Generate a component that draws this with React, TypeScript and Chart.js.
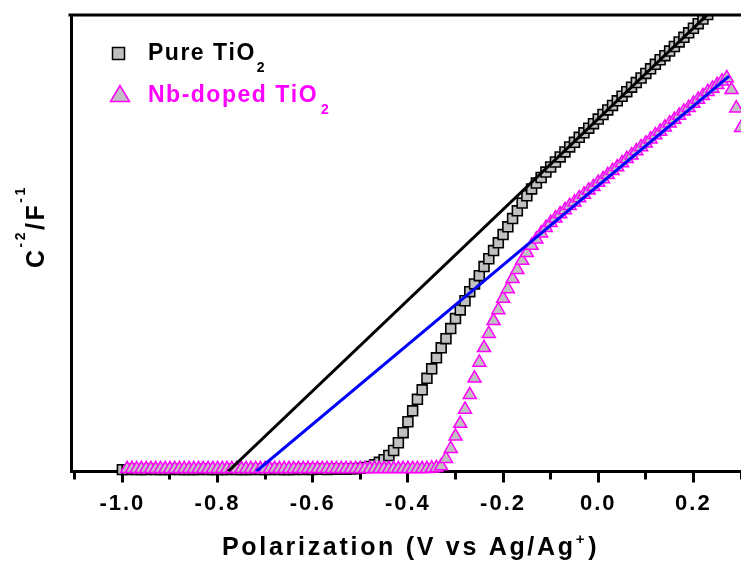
import { useEffect, useRef } from "react";
import { Chart, registerables } from "chart.js";

Chart.register(...registerables);

// Electrode potential (V vs Ag/Ag+), one reading every 10 mV
const potential = [
  -1.0, -0.99, -0.98, -0.97, -0.96, -0.95, -0.94, -0.93, -0.92, -0.91,
  -0.9, -0.89, -0.88, -0.87, -0.86, -0.85, -0.84, -0.83, -0.82, -0.81,
  -0.8, -0.79, -0.78, -0.77, -0.76, -0.75, -0.74, -0.73, -0.72, -0.71,
  -0.7, -0.69, -0.68, -0.67, -0.66, -0.65, -0.64, -0.63, -0.62, -0.61,
  -0.6, -0.59, -0.58, -0.57, -0.56, -0.55, -0.54, -0.53, -0.52, -0.51,
  -0.5, -0.49, -0.48, -0.47, -0.46, -0.45, -0.44, -0.43, -0.42, -0.41,
  -0.4, -0.39, -0.38, -0.37, -0.36, -0.35, -0.34, -0.33, -0.32, -0.31,
  -0.3, -0.29, -0.28, -0.27, -0.26, -0.25, -0.24, -0.23, -0.22, -0.21,
  -0.2, -0.19, -0.18, -0.17, -0.16, -0.15, -0.14, -0.13, -0.12, -0.11,
  -0.1, -0.09, -0.08, -0.07, -0.06, -0.05, -0.04, -0.03, -0.02, -0.01,
  0.0, 0.01, 0.02, 0.03, 0.04, 0.05, 0.06, 0.07, 0.08, 0.09,
  0.1, 0.11, 0.12, 0.13, 0.14, 0.15, 0.16, 0.17, 0.18, 0.19,
  0.2, 0.21, 0.22, 0.23, 0.24, 0.25, 0.26, 0.27, 0.28, 0.29, 0.3,
];

// C^-2 (arbitrary units) for the undoped film
const pureTiO2 = [
  0.04, 0.04, 0.05, 0.04, 0.04, 0.04, 0.05, 0.04, 0.04, 0.04,
  0.04, 0.05, 0.04, 0.04, 0.04, 0.04, 0.04, 0.05, 0.04, 0.04,
  0.04, 0.04, 0.04, 0.05, 0.04, 0.04, 0.04, 0.04, 0.05, 0.04,
  0.04, 0.04, 0.05, 0.04, 0.04, 0.04, 0.04, 0.05, 0.04, 0.05,
  0.04, 0.05, 0.05, 0.04, 0.05, 0.05, 0.05, 0.05, 0.06, 0.06,
  0.07, 0.09, 0.11, 0.15, 0.2, 0.26, 0.35, 0.46, 0.63, 0.85,
  1.09, 1.33, 1.58, 1.79, 2.04, 2.25, 2.49, 2.71, 2.91, 3.13,
  3.35, 3.54, 3.74, 3.94, 4.11, 4.29, 4.49, 4.66, 4.84, 5.01,
  5.19, 5.36, 5.54, 5.71, 5.88, 6.04, 6.19, 6.32, 6.44, 6.56,
  6.67, 6.78, 6.89, 7.0, 7.11, 7.21, 7.32, 7.42, 7.52, 7.62,
  7.72, 7.82, 7.92, 8.02, 8.12, 8.22, 8.32, 8.42, 8.52, 8.62,
  8.72, 8.82, 8.92, 9.02, 9.11, 9.21, 9.31, 9.41, 9.51, 9.61,
  9.71, 9.81, 9.91, 10.01, 10.11, 10.21, 10.31, 10.41, 10.51, 10.61, 10.71,
];

// C^-2 (arbitrary units) for the Nb-doped film
const nbDopedTiO2 = [
  null, 0.06, 0.06, 0.06, 0.06, 0.06, 0.06, 0.06, 0.06, 0.06,
  0.06, 0.06, 0.06, 0.06, 0.06, 0.06, 0.06, 0.06, 0.06, 0.06,
  0.06, 0.06, 0.06, 0.06, 0.06, 0.06, 0.06, 0.06, 0.06, 0.06,
  0.06, 0.06, 0.06, 0.06, 0.06, 0.06, 0.06, 0.06, 0.06, 0.06,
  0.06, 0.06, 0.06, 0.06, 0.06, 0.06, 0.06, 0.06, 0.06, 0.06,
  0.06, 0.06, 0.06, 0.06, 0.06, 0.06, 0.06, 0.06, 0.06, 0.06,
  0.06, 0.06, 0.06, 0.06, 0.06, 0.07, 0.08, 0.12, 0.28, 0.5,
  0.77, 1.05, 1.36, 1.68, 2.04, 2.39, 2.71, 3.02, 3.3, 3.54,
  3.79, 4.0, 4.22, 4.42, 4.62, 4.79, 4.95, 5.09, 5.22, 5.34,
  5.45, 5.55, 5.64, 5.73, 5.82, 5.9, 5.99, 6.07, 6.16, 6.24,
  6.33, 6.41, 6.5, 6.59, 6.67, 6.76, 6.85, 6.93, 7.02, 7.11,
  7.19, 7.28, 7.37, 7.45, 7.54, 7.63, 7.71, 7.8, 7.89, 7.97,
  8.06, 8.15, 8.23, 8.32, 8.39, 8.47, 8.55, 8.62, 8.36, 7.96, 7.53,
];

// Linear Mott-Schottky fits: [start, end] as [potential, C^-2]
const pureFit = [
  [-0.778, 0],
  [0.25, 10.21],
];
const nbFit = [
  [-0.719, 0],
  [0.275, 8.66],
];

// Axis ticks: every 0.1 V, labelled every 0.2 V
const xTicks = [-1.1, -1.0, -0.9, -0.8, -0.7, -0.6, -0.5, -0.4, -0.3, -0.2, -0.1, 0.0, 0.1, 0.2, 0.3];
const xLabelled = [-1.0, -0.8, -0.6, -0.4, -0.2, 0.0, 0.2];

const FONT = '"Liberation Sans", Arial, Helvetica, sans-serif';
const MAGENTA = "#FF00FF";
const GREY = "#C0C0C0";

type Run = { text: string; size: number; dy?: number; dx?: number };

// Draws bold text one glyph at a time so that spacing and raised/lowered runs can be set
function drawRuns(ctx: CanvasRenderingContext2D, runs: Run[], x: number, y: number, spacing: number, color: string) {
  ctx.fillStyle = color;
  ctx.textAlign = "left";
  ctx.textBaseline = "alphabetic";
  let cx = x;
  for (const run of runs) {
    ctx.font = `bold ${run.size}px ${FONT}`;
    cx += run.dx ?? 0;
    for (const ch of run.text) {
      ctx.fillText(ch, cx, y + (run.dy ?? 0));
      cx += ctx.measureText(ch).width + spacing;
    }
  }
}

const decorations = {
  id: "decorations",
  beforeDraw(chart: any) {
    (chart.ctx as any).letterSpacing = "2px";
  },
  afterDraw(chart: any) {
    const ctx: CanvasRenderingContext2D = chart.ctx;
    const area = chart.chartArea;
    ctx.save();
    (ctx as any).letterSpacing = "0px";

    // top frame line
    ctx.strokeStyle = "#000";
    ctx.lineWidth = 3;
    ctx.beginPath();
    ctx.moveTo(area.left - 2.5, area.top);
    ctx.lineTo(area.right + 2, area.top);
    ctx.stroke();

    // x-axis title
    drawRuns(
      ctx,
      [
        { text: "Polarization (V vs Ag/Ag", size: 25 },
        { text: "+", size: 15, dy: -11 },
        { text: ")", size: 25, dx: 1 },
      ],
      222,
      555,
      2.7,
      "#000"
    );

    // y-axis title
    ctx.save();
    ctx.translate(43.5, 268);
    ctx.rotate(-Math.PI / 2);
    drawRuns(
      ctx,
      [
        { text: "C", size: 25 },
        { text: "-2", size: 14, dy: -19 },
        { text: "/F", size: 25 },
        { text: "-1", size: 14, dy: -19 },
      ],
      0,
      0,
      2.5,
      "#000"
    );
    ctx.restore();

    // legend: Pure TiO2
    ctx.fillStyle = GREY;
    ctx.fillRect(112.5, 47.5, 12, 12);
    ctx.strokeStyle = "#000";
    ctx.lineWidth = 1.5;
    ctx.strokeRect(112.5, 47.5, 12, 12);
    drawRuns(
      ctx,
      [
        { text: "Pure TiO", size: 23 },
        { text: "2", size: 14, dy: 12, dx: 1 },
      ],
      148,
      60,
      1.5,
      "#000"
    );

    // legend: Nb-doped TiO2
    ctx.beginPath();
    ctx.moveTo(120, 85.5);
    ctx.lineTo(110.5, 101.5);
    ctx.lineTo(129.5, 101.5);
    ctx.closePath();
    ctx.fillStyle = GREY;
    ctx.fill();
    ctx.strokeStyle = MAGENTA;
    ctx.lineWidth = 1.5;
    ctx.stroke();
    drawRuns(
      ctx,
      [
        { text: "Nb-doped TiO", size: 23 },
        { text: "2", size: 14, dy: 12.5, dx: 3 },
      ],
      148,
      101.5,
      1.5,
      MAGENTA
    );

    ctx.restore();
  },
};

function points(ys: (number | null)[]) {
  const out: { x: number; y: number }[] = [];
  potential.forEach((x, i) => {
    const y = ys[i];
    if (y !== null && y !== undefined) out.push({ x, y });
  });
  return out;
}

export default function App() {
  const canvasRef = useRef<HTMLCanvasElement | null>(null);

  useEffect(() => {
    const canvas = canvasRef.current;
    if (!canvas) return;

    const chart = new Chart(canvas, {
      type: "scatter",
      data: {
        datasets: [
          {
            label: "Nb-doped TiO2 fit",
            data: nbFit.map(([x, y]) => ({ x, y })),
            showLine: true,
            borderColor: "#0000FF",
            borderWidth: 3,
            pointRadius: 0,
            order: 0,
          },
          {
            label: "Pure TiO2 fit",
            data: pureFit.map(([x, y]) => ({ x, y })),
            showLine: true,
            borderColor: "#000000",
            borderWidth: 3,
            pointRadius: 0,
            order: 1,
          },
          {
            label: "Nb-doped TiO2",
            data: points(nbDopedTiO2),
            pointStyle: "triangle",
            pointRadius: 7.5,
            pointBorderWidth: 1.5,
            pointBorderColor: MAGENTA,
            pointBackgroundColor: GREY,
            borderColor: MAGENTA,
            backgroundColor: GREY,
            clip: { left: 0, top: 0, right: 0, bottom: 4 } as any,
            order: 2,
          },
          {
            label: "Pure TiO2",
            data: points(pureTiO2),
            pointStyle: "rect",
            pointRadius: 7,
            pointBorderWidth: 1.6,
            pointBorderColor: "#000000",
            pointBackgroundColor: GREY,
            borderColor: "#000000",
            backgroundColor: GREY,
            clip: { left: 0, top: 0, right: 0, bottom: 4 } as any,
            order: 3,
          },
        ],
      },
      options: {
        responsive: false,
        animation: false,
        devicePixelRatio: 1,
        events: [],
        layout: { autoPadding: false, padding: { left: 71, top: 15, right: 0, bottom: 35.6 } },
        plugins: {
          legend: { display: false },
          tooltip: { enabled: false },
        },
        scales: {
          x: {
            type: "linear",
            min: -1.108,
            max: 0.3,
            afterBuildTicks: (scale: any) => {
              scale.ticks = xTicks.map((value) => ({ value }));
            },
            border: { display: true, color: "#000", width: 3 },
            grid: {
              display: true,
              drawOnChartArea: false,
              drawTicks: true,
              tickLength: 11,
              tickWidth: 3,
              tickColor: "#000",
              tickBorderDash: (ctx: any) =>
                ctx.tick && !xLabelled.includes(ctx.tick.value) ? [6.5, 100] : [],
            },
            ticks: {
              autoSkip: false,
              maxRotation: 0,
              padding: 0,
              color: "#000",
              font: { family: FONT, size: 22, weight: "bold", lineHeight: 1.95 },
              callback: (value: any) =>
                xLabelled.includes(Number(value)) ? Number(value).toFixed(1) : "",
            },
          },
          y: {
            type: "linear",
            min: 0,
            max: 10,
            border: { display: true, color: "#000", width: 3 },
            grid: { display: false, drawTicks: false },
            ticks: { display: false },
          },
        },
      },
      plugins: [decorations],
    } as any);

    return () => chart.destroy();
  }, []);

  return (
    <div
      style={{
        position: "fixed",
        left: 0,
        top: 0,
        width: 741,
        height: 561,
        overflow: "hidden",
        background: "#fff",
      }}
    >
      <canvas ref={canvasRef} width={741} height={561} style={{ display: "block", width: 741, height: 561 }} />
    </div>
  );
}
